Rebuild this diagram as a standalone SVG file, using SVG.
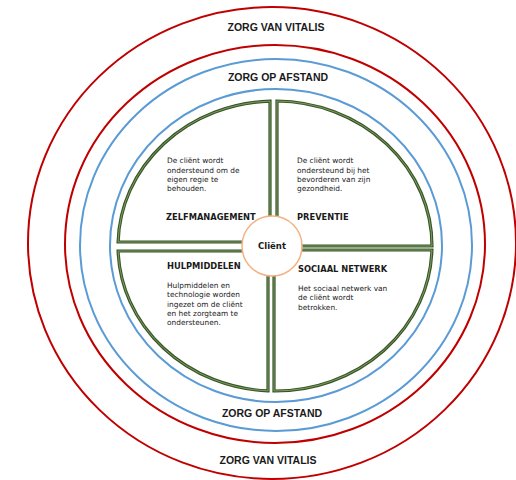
<svg xmlns="http://www.w3.org/2000/svg" width="516" height="480" viewBox="0 0 516 480">
<style>
.red{fill:none;stroke:#c00000;stroke-width:2}
.blue{fill:none;stroke:#5b9bd5;stroke-width:2}
.gOut{fill:none;stroke:#375623;stroke-width:3.2;stroke-linejoin:miter}
.gIn{fill:none;stroke:#9fb88a;stroke-width:0.7;stroke-linejoin:miter}
.ring{font-family:"Liberation Sans",Arial,sans-serif;font-weight:bold;font-size:10.5px;fill:#1a1a1a;text-anchor:middle}
.head{font-family:"DejaVu Sans",Verdana,sans-serif;font-weight:bold;font-size:8.3px;fill:#1a1a1a}
.body{font-family:"DejaVu Sans",Verdana,sans-serif;font-size:7.4px;fill:#1a1a1a}
.client{font-family:"DejaVu Sans",Verdana,sans-serif;font-weight:bold;font-size:8.5px;fill:#1a1a1a;text-anchor:middle}
</style>
<defs>
<path id="qUL" d="M270,242 L270,101.1 A157,145 0 0 0 118.1,242 Z"/>
<path id="qUR" d="M277,246 L277,101 A157,145 0 0 1 432,246 Z"/>
<path id="qLL" d="M268,251 L118.1,251 A157,145 0 0 0 268,390.9 Z"/>
<path id="qLR" d="M274,250 L431.9,250 A157,145 0 0 1 274,391 Z"/>
</defs>
<rect width="516" height="480" fill="#ffffff"/>
<g id="ring-vitalis">
<ellipse class="red" cx="272" cy="243" rx="244" ry="236"/>
<ellipse class="red" cx="275" cy="244" rx="210" ry="199"/>
<text class="ring" x="276" y="31">ZORG VAN VITALIS</text>
<text class="ring" x="268" y="464">ZORG VAN VITALIS</text>
</g>
<g id="ring-afstand">
<ellipse class="blue" cx="276" cy="245" rx="196" ry="186"/>
<ellipse class="blue" cx="276" cy="245.5" rx="166" ry="156.5"/>
<text class="ring" x="278" y="81">ZORG OP AFSTAND</text>
<text class="ring" x="272" y="417">ZORG OP AFSTAND</text>
</g>
<g id="zelfmanagement">
<use href="#qUL" class="gOut"/><use href="#qUL" class="gIn"/>
<text class="body"><tspan x="167" y="163">De cliënt wordt</tspan><tspan x="167" y="172.5">ondersteund om de</tspan><tspan x="167" y="182">eigen regie te</tspan><tspan x="167" y="191">behouden.</tspan></text>
<text class="head" x="166" y="220">ZELFMANAGEMENT</text>
</g>
<g id="preventie">
<use href="#qUR" class="gOut"/><use href="#qUR" class="gIn"/>
<text class="body"><tspan x="297" y="163">De cliënt wordt</tspan><tspan x="297" y="172.5">ondersteund bij het</tspan><tspan x="297" y="182">bevorderen van zijn</tspan><tspan x="297" y="191">gezondheid.</tspan></text>
<text class="head" x="297" y="220">PREVENTIE</text>
</g>
<g id="hulpmiddelen">
<use href="#qLL" class="gOut"/><use href="#qLL" class="gIn"/>
<text class="head" x="167" y="269">HULPMIDDELEN</text>
<text class="body"><tspan x="167" y="288">Hulpmiddelen en</tspan><tspan x="167" y="297.3">technologie worden</tspan><tspan x="167" y="306.6">ingezet om de cliënt</tspan><tspan x="167" y="315.9">en het zorgteam te</tspan><tspan x="167" y="325.2">ondersteunen.</tspan></text>
</g>
<g id="sociaal-netwerk">
<use href="#qLR" class="gOut"/><use href="#qLR" class="gIn"/>
<text class="head" x="298" y="272">SOCIAAL NETWERK</text>
<text class="body"><tspan x="298" y="291">Het sociaal netwerk van</tspan><tspan x="298" y="300.3">de cliënt wordt</tspan><tspan x="298" y="309.6">betrokken.</tspan></text>
</g>
<g id="client">
<circle cx="272" cy="246" r="30" fill="#ffffff" stroke="#f4b183" stroke-width="1.5"/>
<text class="client" x="272" y="249">Cliënt</text>
</g>
<g id="connectors"></g>
</svg>
